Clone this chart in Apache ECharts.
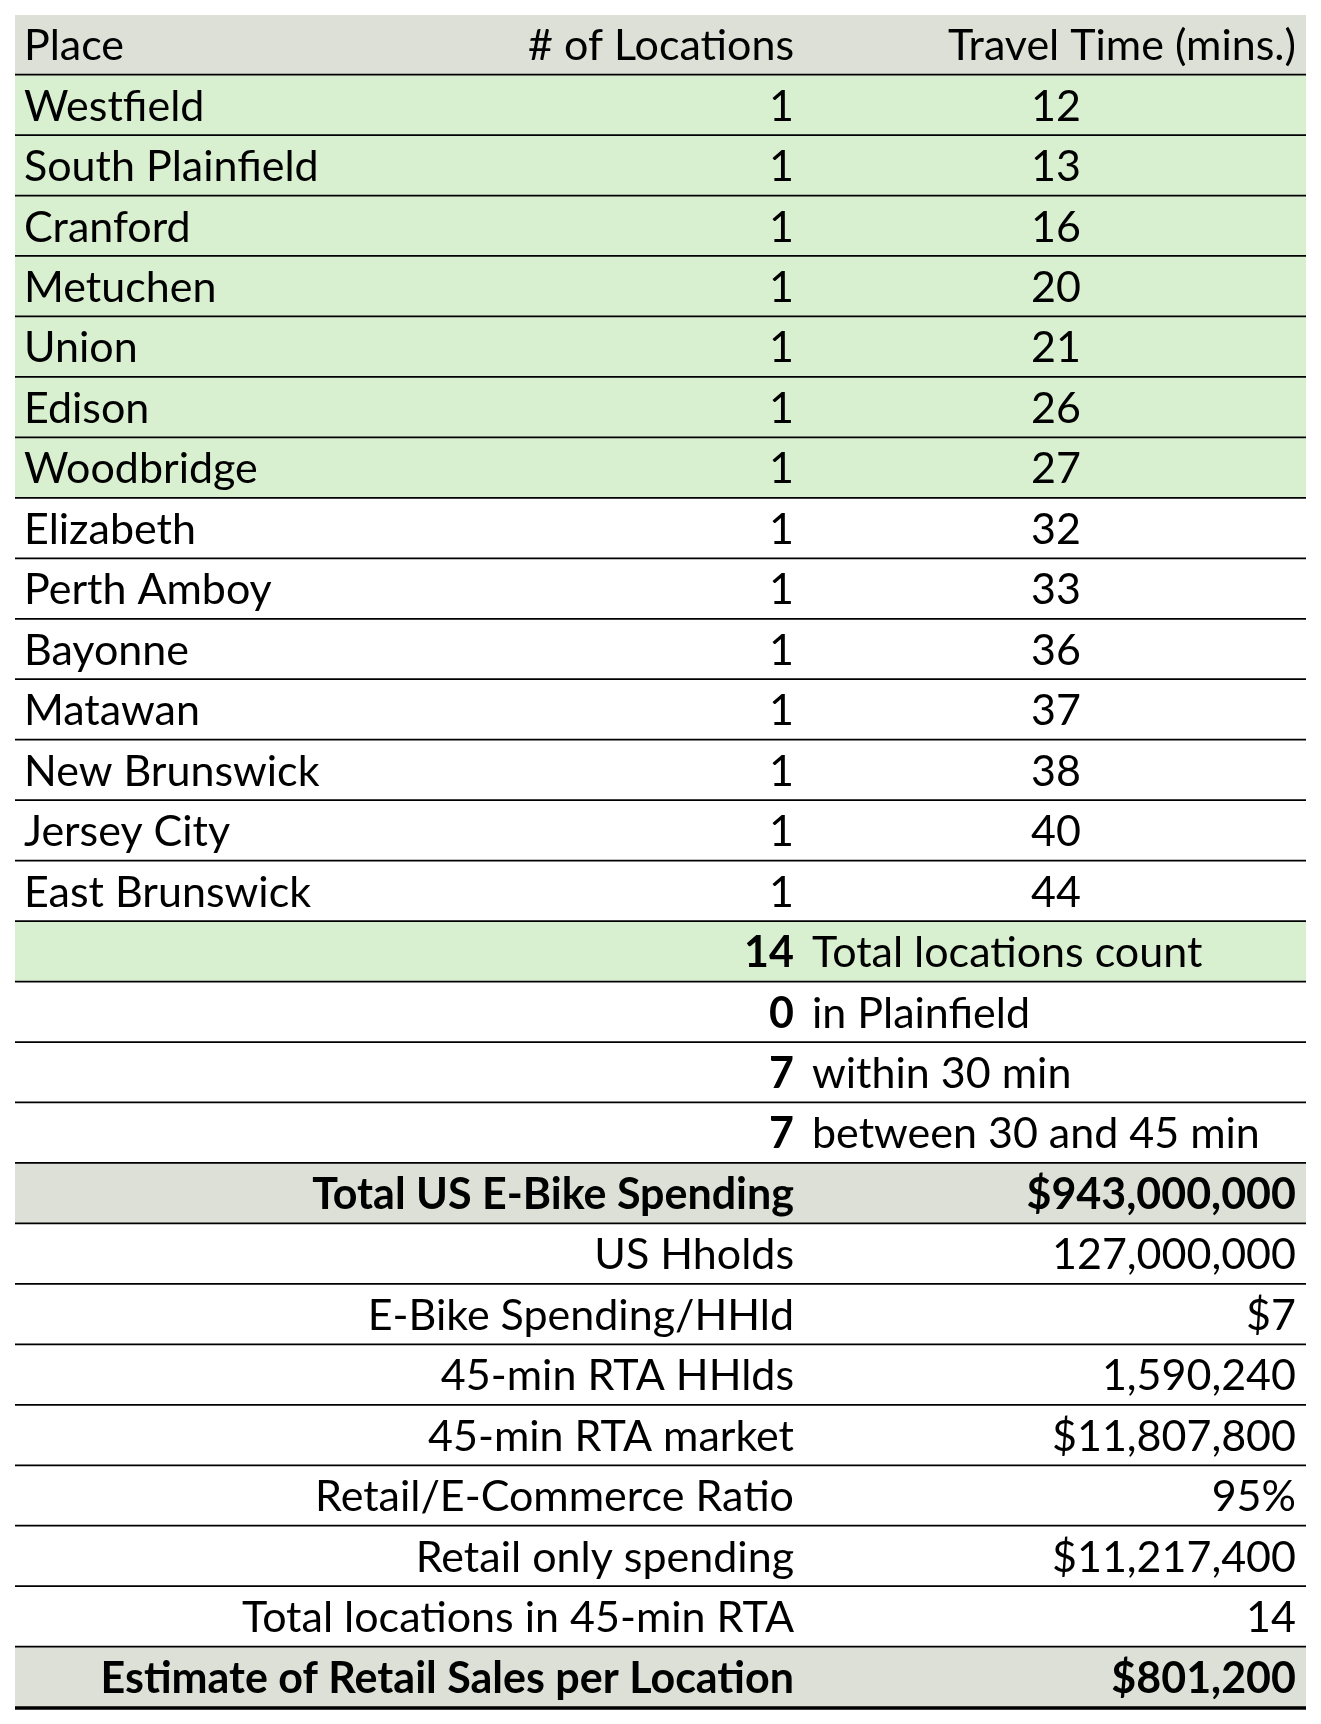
<!DOCTYPE html>
<html>
<head>
<meta charset="utf-8">
<script src="https://cdn.jsdelivr.net/npm/echarts@6/dist/echarts.min.js"></script>
<style>
html,body{margin:0;padding:0;background:#fff;}
#chart{width:1321px;height:1724px;}
</style>
</head>
<body>
<div id="chart"></div>
<script>
// ---- data ----
const headers = ['Place', '# of Locations', 'Travel Time (mins.)'];
const places = ['Westfield', 'South Plainfield', 'Cranford', 'Metuchen', 'Union', 'Edison', 'Woodbridge',
  'Elizabeth', 'Perth Amboy', 'Bayonne', 'Matawan', 'New Brunswick', 'Jersey City', 'East Brunswick'];
const locationCounts = [1, 1, 1, 1, 1, 1, 1, 1, 1, 1, 1, 1, 1, 1];
const travelTimes = [12, 13, 16, 20, 21, 26, 27, 32, 33, 36, 37, 38, 40, 44];
const summaryCounts = [14, 0, 7, 7];
const summaryLabels = ['Total locations count', 'in Plainfield', 'within 30 min', 'between 30 and 45 min'];
const metricLabels = ['Total US E-Bike Spending', 'US Hholds', 'E-Bike Spending/HHld', '45-min RTA HHlds',
  '45-min RTA market', 'Retail/E-Commerce Ratio', 'Retail only spending', 'Total locations in 45-min RTA',
  'Estimate of Retail Sales per Location'];
const metricValues = [943000000, 127000000, 7, 1590240, 11807800, 0.95, 11217400, 14, 801200];
const metricFormats = ['$', 'n', '$', 'n', '$', '%', '$', 'n', '$'];

// ---- build ----
const GREEN = '#d9f0d0', GRAY = '#dce0d6', WHITE = '#ffffff';
const FONT = 'Lato, "Noto Sans", sans-serif';
const FS = 43;
const W = 1291; // x-axis extent (data units = px inside grid)
function fmt(v, f) {
  if (f === '%') return Math.round(v * 100) + '%';
  const s = v.toLocaleString('en-US');
  return f === '$' ? '$' + s : s;
}
const rows = [];
rows.push({ fill: GRAY, cells: [
  { t: headers[0], x: 9, a: 'left' },
  { t: headers[1], x: 779, a: 'right' },
  { t: headers[2], x: 1281, a: 'right' }] });
places.forEach((p, i) => rows.push({ fill: travelTimes[i] <= 30 ? GREEN : WHITE, cells: [
  { t: p, x: 9, a: 'left' },
  { t: String(locationCounts[i]), x: 779, a: 'right' },
  { t: String(travelTimes[i]), x: 1041, a: 'center' }] }));
summaryCounts.forEach((c, i) => rows.push({ fill: i === 0 ? GREEN : WHITE, cells: [
  { t: String(c), x: 779, a: 'right', b: true },
  { t: summaryLabels[i], x: 797, a: 'left' }] }));
metricLabels.forEach((l, i) => {
  const bold = i === 0 || i === metricLabels.length - 1;
  rows.push({ fill: bold ? GRAY : WHITE, cells: [
    { t: l, x: 779, a: 'right', b: bold },
    { t: fmt(metricValues[i], metricFormats[i]), x: 1281, a: 'right', b: bold }] });
});
const cats = rows.map((r, i) => 'r' + i);

const chart = echarts.init(document.getElementById('chart'), null, { renderer: 'canvas' });
chart.setOption({
  animation: false,
  backgroundColor: '#fff',
  grid: { left: 15, right: 15, top: 15, bottom: 16 },
  xAxis: { type: 'value', min: 0, max: W, show: false },
  yAxis: { type: 'category', data: cats, inverse: true, show: false },
  series: [{
    type: 'custom',
    clip: false,
    data: rows.map((r, i) => [i]),
    encode: { y: 0 },
    renderItem: function (params, api) {
      const idx = api.value(0);
      const row = rows[idx];
      const c = api.coord([0, idx]);
      const cx1 = api.coord([W, idx])[0];
      const h = api.size([0, 1])[1];
      const top = c[1] - h / 2, bot = c[1] + h / 2;
      const children = [{
        type: 'rect',
        shape: { x: c[0], y: top, width: cx1 - c[0], height: h },
        style: { fill: row.fill }
      }, {
        type: 'line',
        shape: { x1: c[0], y1: bot, x2: cx1, y2: bot },
        style: { stroke: '#000', lineWidth: 3.5 }
      }];
      row.cells.forEach(cell => {
        children.push({
          type: 'text',
          style: {
            text: cell.t,
            x: api.coord([cell.x, idx])[0],
            y: c[1] + 1,
            align: cell.a,
            verticalAlign: 'middle',
            font: (cell.b ? 'bold ' : '') + FS + 'px ' + FONT,
            fill: '#000'
          }
        });
      });
      return { type: 'group', children: children };
    }
  }]
});
</script>
</body>
</html>
